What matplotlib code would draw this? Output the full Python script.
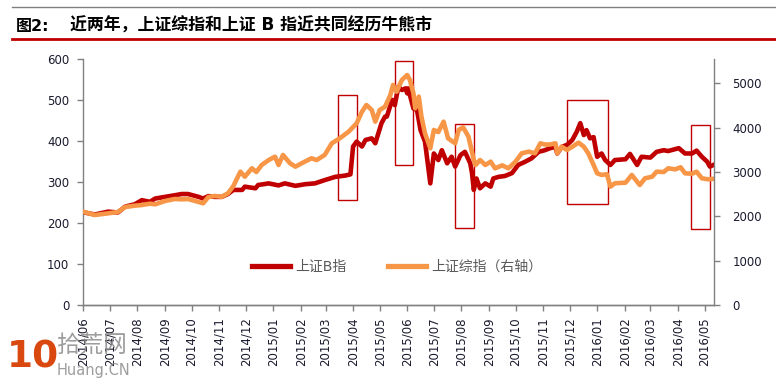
import pandas as pd
import matplotlib
matplotlib.use("Agg")
import matplotlib.pyplot as plt
import matplotlib.dates as mdates
from matplotlib.patches import Rectangle
from matplotlib.lines import Line2D

plt.rcParams['font.family'] = ['DejaVu Sans', 'Noto Sans CJK SC']

# 上证B指（左轴）
b_dates = ['2014-06-02', '2014-06-14', '2014-06-29', '2014-07-10', '2014-07-18', '2014-07-29',
           '2014-08-06', '2014-08-15', '2014-08-21', '2014-09-01', '2014-09-12', '2014-09-20',
           '2014-09-27', '2014-10-09', '2014-10-14', '2014-10-20', '2014-10-27', '2014-11-04',
           '2014-11-11', '2014-11-17', '2014-11-27', '2014-11-30', '2014-12-12', '2014-12-15',
           '2014-12-27', '2015-01-07', '2015-01-14', '2015-01-26', '2015-02-06', '2015-02-17',
           '2015-02-28', '2015-03-12', '2015-03-23', '2015-03-29', '2015-04-01', '2015-04-05',
           '2015-04-11', '2015-04-15', '2015-04-22', '2015-04-26', '2015-05-03', '2015-05-07',
           '2015-05-09', '2015-05-15', '2015-05-18', '2015-05-22', '2015-05-26', '2015-05-30',
           '2015-06-01', '2015-06-02', '2015-06-08', '2015-06-12', '2015-06-16', '2015-06-21',
           '2015-06-27', '2015-07-01', '2015-07-06', '2015-07-10', '2015-07-16', '2015-07-21',
           '2015-07-25', '2015-07-31', '2015-08-05', '2015-08-11', '2015-08-13', '2015-08-15',
           '2015-08-18', '2015-08-22', '2015-08-28', '2015-09-03', '2015-09-06', '2015-09-12',
           '2015-09-19', '2015-09-27', '2015-10-04', '2015-10-12', '2015-10-19', '2015-10-27',
           '2015-11-03', '2015-11-09', '2015-11-15', '2015-11-17', '2015-11-22', '2015-11-28',
           '2015-12-04', '2015-12-09', '2015-12-13', '2015-12-17', '2015-12-20', '2015-12-24',
           '2015-12-28', '2016-01-01', '2016-01-06', '2016-01-10', '2016-01-16', '2016-01-21',
           '2016-02-02', '2016-02-07', '2016-02-15', '2016-02-20', '2016-03-01', '2016-03-08',
           '2016-03-16', '2016-03-21', '2016-04-02', '2016-04-09', '2016-04-17', '2016-04-22',
           '2016-04-28', '2016-05-04', '2016-05-07', '2016-05-11']
b_values = [226, 221, 228, 226, 240, 246,
            256, 252, 260, 264, 268, 271,
            271, 264, 260, 266, 264, 264,
            271, 281, 281, 289, 285, 293,
            297, 292, 297, 291, 295, 297,
            305, 313, 316, 319, 387, 399,
            387, 403, 407, 395, 444, 460,
            460, 501, 488, 533, 525, 529,
            517, 529, 480, 476, 427, 399,
            297, 370, 354, 378, 346, 362,
            338, 366, 374, 346, 322, 281,
            309, 285, 297, 289, 309, 313,
            315, 322, 342, 350, 358, 374,
            378, 383, 386, 370, 386, 391,
            403, 423, 444, 415, 427, 407,
            410, 362, 370, 354, 342, 354,
            356, 369, 342, 362, 360, 374,
            378, 376, 383, 370, 370, 377,
            362, 350, 338, 342]

# 上证综指（右轴）
comp_dates = ['2014-06-02', '2014-06-14', '2014-06-29', '2014-07-10', '2014-07-18', '2014-07-29',
              '2014-08-06', '2014-08-15', '2014-08-21', '2014-09-01', '2014-09-12', '2014-09-20',
              '2014-09-27', '2014-10-09', '2014-10-14', '2014-10-20', '2014-10-27', '2014-11-04',
              '2014-11-11', '2014-11-17', '2014-11-25', '2014-11-30', '2014-12-08', '2014-12-13',
              '2014-12-19', '2014-12-27', '2015-01-03', '2015-01-07', '2015-01-12', '2015-01-20',
              '2015-01-26', '2015-02-02', '2015-02-13', '2015-02-19', '2015-02-28', '2015-03-08',
              '2015-03-17', '2015-03-27', '2015-04-05', '2015-04-11', '2015-04-16', '2015-04-22',
              '2015-04-26', '2015-05-01', '2015-05-07', '2015-05-13', '2015-05-16', '2015-05-20',
              '2015-05-26', '2015-06-01', '2015-06-04', '2015-06-08', '2015-06-10', '2015-06-14',
              '2015-06-17', '2015-06-21', '2015-06-27', '2015-07-01', '2015-07-06', '2015-07-12',
              '2015-07-17', '2015-07-25', '2015-07-29', '2015-08-03', '2015-08-09', '2015-08-15',
              '2015-08-17', '2015-08-22', '2015-08-28', '2015-09-03', '2015-09-08', '2015-09-16',
              '2015-09-23', '2015-10-01', '2015-10-08', '2015-10-16', '2015-10-23', '2015-10-29',
              '2015-11-03', '2015-11-09', '2015-11-15', '2015-11-17', '2015-11-22', '2015-11-28',
              '2015-12-04', '2015-12-11', '2015-12-17', '2015-12-22', '2015-12-28', '2016-01-01',
              '2016-01-06', '2016-01-12', '2016-01-16', '2016-01-21', '2016-02-02', '2016-02-09',
              '2016-02-15', '2016-02-18', '2016-02-24', '2016-03-03', '2016-03-08', '2016-03-16',
              '2016-03-21', '2016-03-29', '2016-04-04', '2016-04-09', '2016-04-17', '2016-04-22',
              '2016-04-28', '2016-05-05', '2016-05-11']
comp_values = [2098, 2030, 2068, 2098, 2210, 2240,
               2255, 2285, 2271, 2346, 2391, 2384,
               2390, 2323, 2294, 2436, 2459, 2440,
               2520, 2680, 3007, 2894, 3083, 3000,
               3158, 3271, 3345, 3158, 3384, 3196,
               3120, 3196, 3309, 3270, 3384, 3647,
               3760, 3910, 4098, 4361, 4511, 4399,
               4135, 4399, 4473, 4737, 4963, 4812,
               5076, 5188, 5076, 4775, 4437, 4700,
               4248, 3873, 3535, 3948, 3900, 4135,
               3760, 3647, 3948, 4008, 3797, 3271,
               3158, 3271, 3158, 3233, 3083, 3150,
               3083, 3233, 3422, 3459, 3422, 3647,
               3620, 3620, 3647, 3422, 3571, 3497,
               3571, 3662, 3571, 3422, 3158, 2971,
               2933, 2950, 2669, 2745, 2760, 2933,
               2782, 2707, 2858, 2894, 3007, 3000,
               3083, 3060, 3106, 2971, 2960, 3007,
               2858, 2835, 2845]

# 牛熊区间标注框：起止日期与左轴上下沿
boxes = [('2015-03-15', '2015-04-05', 256, 513),
         ('2015-05-18', '2015-06-08', 341, 595),
         ('2015-07-25', '2015-08-15', 187, 442),
         ('2015-11-28', '2016-01-13', 246, 500),
         ('2016-04-16', '2016-05-07', 186, 439)]

left_ticks = [0, 100, 200, 300, 400, 500, 600]
right_ticks = [0, 1000, 2000, 3000, 4000, 5000]

b_x = pd.to_datetime(b_dates)
comp_x = pd.to_datetime(comp_dates)

red = '#C00000'
orange = '#F79646'
axis_gray = '#808080'

fig = plt.figure(figsize=(7.76, 3.87), dpi=100)
ax = fig.add_axes([83.3 / 776, 1 - 305 / 387, (714.3 - 83.3) / 776, (305 - 59.3) / 387])
ax2 = ax.twinx()

ax.plot(b_x, b_values, color=red, linewidth=3.3, solid_joinstyle='round')
ax2.plot(comp_x, comp_values, color=orange, linewidth=3.3, solid_joinstyle='round')

for start, end, low, high in boxes:
    s = mdates.date2num(pd.Timestamp(start))
    e = mdates.date2num(pd.Timestamp(end))
    ax.add_patch(Rectangle((s, low), e - s, high - low, fill=False,
                           edgecolor=red, linewidth=1.0, zorder=5))
ax2.set_zorder(ax.get_zorder() + 1)
ax.patch.set_visible(False)

ax.set_xlim(pd.Timestamp('2014-06-01'), pd.Timestamp('2016-05-12'))
ax.set_ylim(0, 600)
ax2.set_ylim(0, 5542)
ax.set_yticks(left_ticks)
ax2.set_yticks(right_ticks)

ax.xaxis.set_major_locator(mdates.MonthLocator())
ax.xaxis.set_major_formatter(mdates.DateFormatter('%Y/%m'))
for lab in ax.get_xticklabels():
    lab.set_rotation(90)

for a in (ax, ax2):
    a.spines['top'].set_visible(False)
    for sp in a.spines.values():
        sp.set_color(axis_gray)
        sp.set_linewidth(1.0)
    a.tick_params(colors=axis_gray, length=4, width=1.0, labelsize=8.5,
                  labelcolor='#1a1a2e', pad=3)
ax.spines['right'].set_visible(False)
ax2.spines['left'].set_visible(False)
ax.tick_params(axis='y', pad=6)
ax2.tick_params(axis='y', pad=9)
ax.tick_params(axis='x', pad=5)

handles = [Line2D([], [], color=red, linewidth=3.8),
           Line2D([], [], color=orange, linewidth=3.8)]
fig.legend(handles, ['上证B指', '上证综指（右轴）'], loc='center left',
           bbox_to_anchor=(252 / 776, 1 - 267 / 387), ncol=2, frameon=False,
           borderpad=0, borderaxespad=0, handlelength=2.75, handletextpad=0.35,
           columnspacing=3.0, prop={'size': 10}, labelcolor='#595959')

# 标题和分隔线
fig.add_artist(Line2D([12 / 776, 1], [1 - 7 / 387] * 2, color='#808080', linewidth=1.0))
fig.add_artist(Line2D([12 / 776, 1], [1 - 38.5 / 387] * 2, color=red, linewidth=2.0))
fig.text(16 / 776, 1 - 26 / 387, '图2:', fontsize=11.5, fontweight='bold', va='center')
fig.text(70 / 776, 1 - 26 / 387, '近两年，上证综指和上证 B 指近共同经历牛熊市',
         fontsize=12.2, fontweight='bold', va='center')

# 水印
fig.text(7 / 776, 1 - 357 / 387, '10', fontsize=27, fontweight='bold', color='#D9480F',
         va='center', family=['DejaVu Sans'])
fig.text(56 / 776, 1 - 346 / 387, '拾荒网', fontsize=17, color='#8c8c8c', va='center',
         alpha=0.85, family=['Noto Sans CJK SC'])
fig.text(57 / 776, 1 - 370 / 387, 'Huang.CN', fontsize=10.5, color='#8c8c8c', va='center',
         alpha=0.85)

fig.savefig('out.png', dpi=100)
